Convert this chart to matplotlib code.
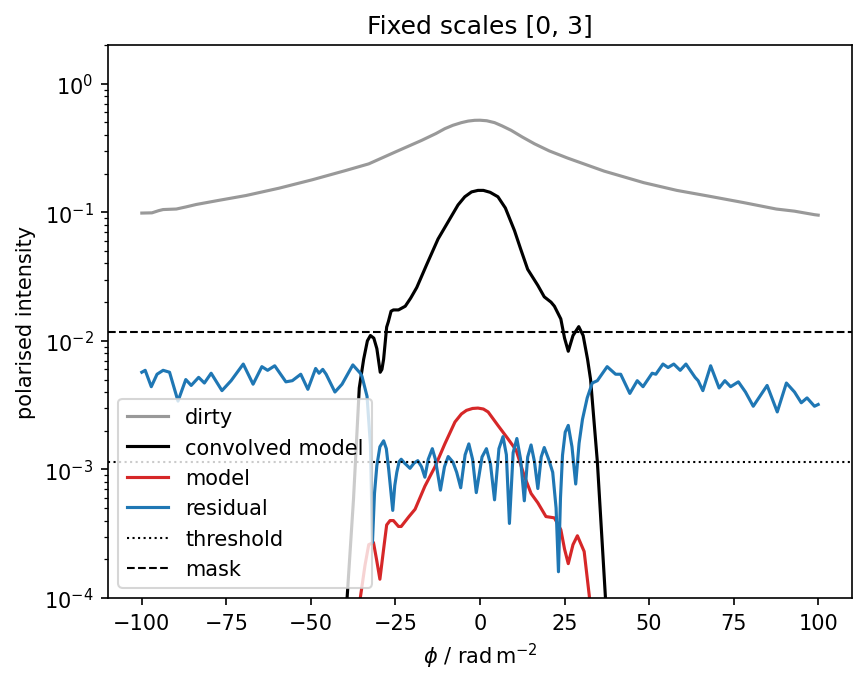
#!/usr/bin/env python3

import matplotlib
matplotlib.use("Agg")
import matplotlib.pyplot as plt

# faraday depth samples, one set per curve
phi_dirty = [-100, -97, -95, -93.7, -89.8, -87, -83.9, -77.1, -69.2, -59.4, -49.6,
             -39.8, -32.9, -25.1, -17.3, -13, -10.4, -8, -5.5, -3.5, -1.6, 0, 2, 4.3,
             6.5, 9.2, 12.5, 16.1, 20.5, 25.9, 36.7, 48.4, 58.2, 68.0, 77.9, 87.6,
             93, 98.9, 100]
dirty = [0.0986, 0.099, 0.103, 0.105, 0.106, 0.110, 0.115, 0.124, 0.135, 0.154, 0.179,
         0.211, 0.238, 0.294, 0.362, 0.410, 0.447, 0.475, 0.498, 0.512, 0.519, 0.52, 0.515, 0.498,
         0.470, 0.434, 0.385, 0.341, 0.300, 0.264, 0.209, 0.170, 0.148, 0.133, 0.119, 0.106,
         0.102, 0.0958, 0.095]

phi_conv = [-41, -39.3, -37.4, -35.7, -34.4, -33.3, -32.4, -31.4, -30.5, -29.5, -29.0, -28.5,
            -27.6, -27.1, -26.3, -25.6, -24.1, -22.1, -20.5, -18.7, -15.8, -12.4, -8.9,
            -6.5, -4.5, -2.5, -0.6, 1, 3, 5.3, 7.5, 10.2, 12, 14.1, 17.1, 19.0, 21.0,
            22.0, 23.9, 25.0, 26.1, 27.5, 29.2, 30.5, 31.8, 32.7, 34.7, 37.1, 39]
conv_model = [1e-5, 1.0e-4, 5.9e-4, 4.3e-3, 7.2e-3, 1.0e-2, 1.1e-2, 1.05e-2, 8.7e-3, 5.7e-3, 6.0e-3, 7.2e-3,
              1.28e-2, 1.41e-2, 1.7e-2, 1.74e-2, 1.74e-2, 1.86e-2, 2.15e-2, 2.6e-2, 3.9e-2, 6.2e-2, 8.9e-2,
              0.114, 0.132, 0.144, 0.148, 0.148, 0.143, 0.132, 0.108, 0.072, 0.052, 0.036, 0.027, 0.022, 0.020,
              0.0186, 0.0148, 0.0105, 8.3e-3, 0.011, 0.0129, 0.011, 7.2e-3, 5.0e-3, 1.15e-3, 1.0e-4, 1e-5]

phi_model = [-36, -35.4, -34, -32.9, -31.5, -30.6, -29.6, -28.5, -27.6, -26.6, -25.6, -24.1,
             -23.3, -21, -19.2, -16.3, -13.3, -10.4, -7.4, -5.5, -4.0, -2.2, -0.6, 1, 2.4, 5.3,
             8.2, 10.7, 13.1, 15.1, 17.1, 19.5, 22.0, 23.9, 25, 26.1, 27.5, 28.8, 30.8, 32.3, 33.5]
model = [6e-5, 1.0e-4, 1.8e-4, 2.6e-4, 2.7e-4, 2.0e-4, 1.4e-4, 2.4e-4, 3.7e-4, 4.0e-4, 4.0e-4, 3.6e-4,
         3.6e-4, 4.3e-4, 4.9e-4, 7.4e-4, 1.05e-3, 1.58e-3, 2.34e-3, 2.7e-3, 2.88e-3, 2.98e-3, 3.0e-3, 2.95e-3,
         2.8e-3, 2.2e-3, 1.74e-3, 1.41e-3, 8.9e-4, 6.5e-4, 5.5e-4, 4.3e-4, 4.2e-4, 3.4e-4, 2.4e-4, 1.85e-4,
         2.6e-4, 3.05e-4, 2.3e-4, 1.05e-4, 5e-5]

phi_resid = [-100, -99, -97.2, -95.5, -93.7, -91.8, -89.3, -87, -85.4, -83.2, -81.5, -79.5,
             -76.3, -73.6, -70, -67.1, -64.5, -62.8, -60.7, -57.4, -55.5, -53, -50.9, -48.6,
             -47.6, -46.5, -45.5, -42.9, -40.8, -37.6, -35.4, -34.9, -33.4, -32.4, -31.8,
             -31.2, -30.5, -29.6, -28.5, -27.7, -27, -26.3, -25.8, -25.2, -24.6, -23.9, -23.3,
             -22.3, -20.7, -19.5, -18.4, -17.3, -16.3, -15.3, -14.1, -13.2, -11.7, -10.5, -9.4,
             -8.0, -6.9, -5.7, -4.4, -3.3, -2.2, -1.1, 0.6, 1.9, 3.1, 4.3, 5.6, 6.8, 7.8, 8.7,
             9.8, 10.9, 12.0, 13.1, 14.1, 15.1, 16.1, 17.1, 18.1, 19.0, 20.3, 21.5, 22.5, 23.2,
             23.8, 24.4, 25.2, 26.1, 27.2, 28.3, 29.3, 30.3, 31.7, 33.2, 34.7, 37.6, 40.1,
             41.6, 44.3, 46.5, 48.2, 50.9, 52.0, 54.1, 55.6, 57.3, 59.2, 60.9, 63.6, 64.5,
             65.9, 68.2, 70.7, 72.4, 74.1, 76.4, 78.5, 80.8, 84.9, 87.9, 90.6, 93, 95.0,
             96.7, 98.9, 100]
residual = [5.7e-3, 5.9e-3, 4.4e-3, 5.5e-3, 5.9e-3, 5.7e-3, 3.4e-3, 5.0e-3, 4.5e-3, 5.2e-3, 4.7e-3, 5.6e-3,
            4.1e-3, 4.9e-3, 6.6e-3, 4.6e-3, 6.3e-3, 5.9e-3, 6.4e-3, 4.8e-3, 4.9e-3, 5.5e-3, 4.2e-3, 6.1e-3,
            5.6e-3, 6.0e-3, 5.5e-3, 4.0e-3, 4.6e-3, 6.5e-3, 5.6e-3, 5.3e-3, 3.7e-3, 1.55e-3, 2.7e-4,
            6.5e-4, 1.07e-3, 1.5e-3, 1.67e-3, 1.45e-3, 1.0e-3, 6.5e-4, 4.8e-4, 7.5e-4, 9.5e-4, 1.15e-3, 1.2e-3,
            1.12e-3, 1.02e-3, 1.12e-3, 1.17e-3, 1.05e-3, 8.7e-4, 1.2e-3, 1.45e-3, 1.2e-3, 6.9e-4, 1.05e-3, 1.26e-3,
            1.14e-3, 9.5e-4, 7.2e-4, 1.3e-3, 1.58e-3, 1.2e-3, 6.6e-4, 1.25e-3, 1.45e-3, 1.1e-3, 5.8e-4, 1.45e-3, 1.8e-3, 1.3e-3, 3.8e-4,
            1.35e-3, 1.74e-3, 1.2e-3, 5.7e-4, 1.25e-3, 1.55e-3, 1.15e-3, 7.1e-4, 1.25e-3, 1.48e-3, 1.2e-3, 9.5e-4, 5e-4, 1.6e-4,
            6e-4, 1.29e-3, 1.95e-3, 2.2e-3, 1.5e-3, 7.7e-4, 1.6e-3, 2.45e-3, 3.6e-3, 4.7e-3, 4.9e-3, 6.3e-3, 5.5e-3,
            5.5e-3, 3.9e-3, 4.9e-3, 4.4e-3, 5.6e-3, 5.5e-3, 6.6e-3, 6.2e-3, 6.6e-3, 5.9e-3, 6.6e-3, 5.2e-3, 4.9e-3,
            4.1e-3, 6.4e-3, 4.3e-3, 4.9e-3, 4.4e-3, 4.8e-3, 4.0e-3, 3.1e-3, 4.5e-3, 2.8e-3, 4.7e-3, 4.0e-3, 3.3e-3,
            3.6e-3, 3.1e-3, 3.2e-3]

threshold = 1.15e-3
mask = 1.17e-2

fig = plt.figure(figsize=(866 / 150, 684 / 150), dpi=150)
ax = fig.add_axes([108 / 866, 1 - 599 / 684, 744 / 866, 553 / 684])

ax.plot(phi_dirty, dirty, color="0.6", label="dirty")
ax.plot(phi_conv, conv_model, color="k", label="convolved model")
ax.plot(phi_model, model, color="tab:red", label="model")
ax.plot(phi_resid, residual, color="tab:blue", label="residual")
ax.axhline(threshold, color="k", ls=":", lw=1, label="threshold")
ax.axhline(mask, color="k", ls="--", lw=1, label="mask")

ax.set_yscale("log")
ax.set_ylim(1e-4, 2)
ax.set_xlim(-110, 110)
ax.set_xlabel(r"$\phi$ / $\mathrm{rad\,m^{-2}}$")
ax.set_ylabel("polarised intensity")
ax.set_title("Fixed scales [0, 3]")
ax.legend(loc="lower left")

fig.savefig("out.png", dpi=150)
